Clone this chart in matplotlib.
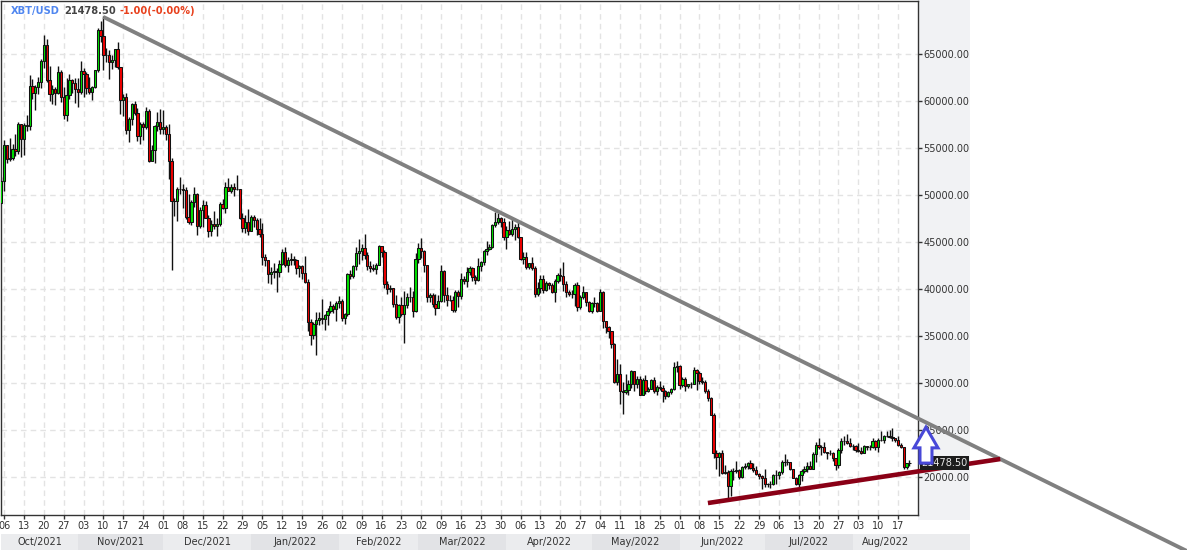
import numpy as np
import pandas as pd
import matplotlib
matplotlib.use("Agg")
import matplotlib.pyplot as plt
import matplotlib.dates as mdates
from matplotlib.patches import Rectangle, Polygon
from matplotlib.transforms import blended_transform_factory

# ---------------------------------------------------------------------------
# Data: XBT/USD daily candles, 2021-10-05 .. 2022-08-21 (values in k USD)
# open of each day = previous close
# ---------------------------------------------------------------------------
first_date = "2021-10-05"
first_open_k = 49.2
last_price = 21478.50
change_text = "-1.00(-0.00%)"
symbol = "XBT/USD"

closes_k = [
    # Oct 2021 (5..31)
    51.5, 55.3, 53.8, 53.9, 54.9, 54.7, 57.5, 56.0, 57.4, 57.3, 61.6, 60.9, 61.5, 62.0,
    64.3, 66.0, 62.2, 60.7, 61.3, 60.9, 63.1, 60.4, 58.5, 60.6, 62.2, 61.9, 61.3,
    # Nov
    61.0, 63.2, 62.9, 61.4, 61.0, 61.5, 63.3, 67.5, 66.9, 64.9, 64.9, 64.2, 64.4, 65.5, 63.6,
    60.1, 60.4, 56.9, 58.1, 59.7, 58.7, 56.3, 57.6, 57.2, 58.9, 53.6, 54.8, 57.3, 57.8, 57.0,
    # Dec
    57.2, 56.5, 53.6, 49.4, 49.4, 50.6, 50.6, 50.5, 47.7, 47.1, 49.3, 50.1, 46.7, 48.4, 48.9,
    47.6, 46.2, 46.9, 46.7, 46.9, 49.0, 48.6, 50.8, 50.4, 50.8, 50.6, 50.6, 47.5, 46.5, 47.1, 46.2,
    # Jan 2022
    47.7, 47.3, 46.4, 45.8, 43.4, 43.1, 41.6, 41.8, 41.9, 41.8, 42.7, 43.9, 42.6, 43.1, 43.2,
    43.1, 42.2, 42.4, 41.7, 40.7, 36.5, 35.1, 36.3, 36.7, 36.9, 36.8, 37.2, 37.7, 38.2, 37.9, 38.5,
    # Feb
    38.7, 36.9, 37.3, 41.6, 41.4, 42.4, 43.8, 44.0, 44.4, 43.6, 42.4, 42.2, 42.1, 42.6,
    44.6, 43.9, 40.5, 40.0, 40.1, 38.4, 37.0, 38.3, 37.3, 38.3, 39.2, 39.1, 37.7, 43.2,
    # Mar
    44.4, 44.0, 42.5, 39.1, 39.4, 38.4, 38.0, 38.7, 41.9, 39.4, 38.8, 38.8, 37.8, 39.7, 39.3,
    41.1, 40.9, 41.8, 42.2, 41.3, 41.0, 42.4, 42.9, 44.0, 44.3, 44.5, 46.8, 47.1, 47.5, 47.1, 45.5,
    # Apr
    46.3, 45.8, 46.4, 46.6, 45.5, 43.2, 43.4, 42.3, 42.8, 42.2, 39.5, 40.1, 41.1, 39.9, 40.6,
    40.4, 39.7, 40.8, 41.5, 41.4, 40.5, 39.7, 39.5, 39.5, 40.4, 38.1, 39.2, 39.7, 38.6, 37.7,
    # May
    38.5, 38.5, 37.7, 39.7, 36.6, 36.0, 35.5, 34.1, 30.1, 31.0, 29.1, 29.0, 29.3, 29.9, 31.3,
    29.9, 30.4, 28.7, 30.3, 29.2, 29.4, 30.3, 29.1, 29.6, 29.5, 29.2, 28.6, 29.0, 29.4, 31.7, 31.8,
    # Jun
    29.8, 30.4, 29.7, 29.9, 29.9, 31.4, 31.1, 30.2, 30.1, 29.1, 28.4, 26.6, 22.5, 22.1, 22.6,
    20.4, 20.5, 19.0, 20.6, 20.6, 20.7, 20.0, 21.1, 21.2, 21.5, 21.0, 20.7, 20.3, 20.1, 19.9,
    # Jul
    19.3, 19.3, 19.3, 20.2, 20.2, 20.5, 21.6, 21.6, 21.6, 20.8, 19.9, 19.3, 20.2, 20.6, 20.8,
    21.2, 20.8, 22.4, 23.4, 23.2, 23.2, 22.7, 22.5, 22.6, 22.0, 21.3, 22.9, 23.8, 23.8, 23.6, 23.3,
    # Aug (1..21)
    23.3, 22.9, 22.8, 22.6, 23.3, 23.2, 23.2, 23.8, 23.2, 23.9, 23.9, 24.4, 24.4, 24.3, 24.1,
    23.9, 23.4, 23.2, 21.1, 21.5, 21.48,
]

highs_k = [
    51.9, 55.8, 55.3, 56.1, 55.4, 56.5, 57.8, 57.6, 57.7, 58.5, 62.8, 62.3, 61.7, 62.6,
    64.5, 67.0, 66.6, 63.7, 61.7, 61.5, 63.7, 63.3, 61.5, 62.4, 62.9, 62.3, 62.4,
    62.4, 64.3, 63.5, 63.1, 62.5, 61.6, 63.3, 67.8, 68.5, 69.0, 65.6, 65.4, 64.9, 65.5, 66.3,
    63.6, 60.7, 60.9, 58.3, 59.8, 60.0, 59.3, 57.8, 57.8, 59.4, 59.2, 55.3, 57.4, 58.8, 59.2,
    59.0, 57.4, 57.6, 53.9, 49.7, 50.9, 51.9, 51.2, 50.8, 50.1, 49.5, 50.8, 50.2, 48.7, 49.5,
    49.4, 47.9, 47.3, 48.3, 47.5, 49.3, 49.6, 51.4, 51.8, 51.2, 51.3, 52.1, 50.6, 48.1, 47.9, 48.5,
    47.9, 47.9, 47.5, 47.5, 47.0, 43.7, 43.1, 42.3, 42.8, 42.2, 43.1, 44.3, 44.5, 43.4, 43.8,
    43.5, 43.2, 42.6, 42.6, 43.5, 41.1, 36.8, 36.5, 37.5, 37.6, 38.9, 37.3, 38.0, 38.7, 38.4, 38.7,
    39.3, 38.9, 37.4, 41.7, 42.0, 42.5, 44.5, 45.3, 44.8, 45.8, 43.9, 43.0, 42.7, 42.8,
    44.7, 44.6, 44.1, 40.9, 40.4, 40.1, 39.4, 38.4, 39.2, 39.8, 39.6, 40.2, 39.8, 43.8,
    44.9, 45.4, 44.1, 42.5, 39.6, 39.6, 39.5, 39.4, 42.6, 42.0, 40.2, 39.4, 39.3, 39.9, 39.9,
    41.7, 41.4, 42.3, 42.4, 42.3, 41.5, 43.3, 43.0, 44.2, 45.1, 44.8, 46.9, 48.2, 48.1, 47.7, 47.6,
    46.7, 47.2, 47.4, 46.9, 47.1, 45.5, 43.9, 43.9, 42.8, 43.4, 42.4, 40.7, 41.5, 41.5, 40.9,
    40.7, 40.6, 41.1, 41.7, 42.2, 42.9, 40.8, 39.9, 39.9, 40.6, 40.7, 39.4, 40.3, 39.4, 38.7,
    38.6, 39.1, 38.6, 40.0, 39.8, 36.6, 36.1, 35.5, 34.3, 32.6, 32.0, 30.1, 31.0, 30.3, 31.4,
    31.3, 30.7, 30.7, 30.5, 30.8, 29.6, 30.4, 30.6, 29.8, 30.2, 29.8, 29.3, 29.2, 29.5, 32.2, 32.3,
    31.9, 30.6, 30.6, 29.9, 30.1, 31.7, 31.5, 31.3, 30.6, 30.3, 29.4, 28.5, 26.8, 22.9, 22.7,
    22.9, 21.3, 20.7, 20.8, 21.0, 21.7, 20.9, 21.2, 21.5, 21.6, 21.8, 21.5, 21.2, 20.4, 20.2,
    20.9, 19.4, 19.6, 20.3, 20.7, 20.6, 21.8, 22.4, 21.9, 21.6, 20.8, 20.0, 20.3, 20.8, 21.2,
    21.6, 21.7, 22.7, 23.7, 24.2, 23.4, 23.7, 22.7, 22.9, 22.7, 21.8, 23.1, 24.2, 24.4, 24.6, 24.1,
    23.5, 23.4, 23.6, 23.2, 23.4, 23.3, 23.4, 24.2, 23.9, 24.2, 24.9, 24.5, 24.9, 25.0, 25.2,
    24.2, 24.4, 23.6, 23.2, 21.5, 21.8,
]

lows_k = [
    49.1, 50.4, 53.4, 53.6, 53.7, 54.1, 54.4, 54.0, 54.3, 56.8, 56.9, 60.2, 59.0, 60.7,
    61.4, 63.5, 62.0, 60.0, 59.7, 59.6, 60.7, 59.9, 58.1, 57.9, 60.2, 60.8, 59.8,
    59.4, 60.7, 60.4, 60.7, 60.7, 60.1, 61.4, 63.1, 66.3, 63.3, 64.1, 62.3, 63.4, 63.6, 63.4,
    58.6, 58.4, 56.5, 55.6, 57.4, 58.5, 55.7, 55.4, 55.9, 57.0, 53.5, 53.6, 53.4, 56.8, 56.5,
    56.5, 55.9, 51.7, 42.0, 47.8, 47.2, 50.1, 48.6, 47.4, 46.9, 46.8, 48.7, 45.7, 46.5, 46.6,
    47.5, 45.5, 45.6, 46.4, 45.6, 46.7, 48.5, 48.1, 50.4, 50.2, 49.9, 50.5, 47.4, 46.1, 46.0, 45.7,
    46.2, 46.6, 45.7, 45.5, 42.5, 42.4, 40.6, 40.5, 41.2, 39.7, 41.3, 42.5, 42.3, 41.8, 42.6,
    42.6, 41.6, 41.3, 41.1, 40.6, 35.5, 34.0, 34.7, 33.0, 36.2, 36.3, 35.6, 36.2, 37.4, 37.4, 36.6,
    38.0, 36.6, 36.3, 37.1, 41.1, 41.2, 42.0, 42.7, 43.1, 43.2, 42.0, 41.8, 41.9, 41.6,
    42.5, 43.4, 40.1, 39.5, 39.7, 38.1, 36.8, 36.4, 37.1, 34.3, 38.0, 38.6, 37.0, 37.5,
    42.8, 43.3, 41.8, 38.6, 38.6, 38.1, 37.2, 38.0, 38.6, 38.6, 38.2, 38.7, 37.6, 37.6, 38.1,
    38.9, 40.5, 40.2, 41.5, 40.9, 40.5, 40.9, 41.9, 42.6, 43.6, 44.1, 44.4, 46.6, 46.9, 46.6, 45.2,
    44.3, 45.7, 45.6, 45.2, 45.4, 43.1, 42.7, 42.1, 42.1, 42.0, 39.2, 39.3, 39.6, 39.6, 39.8,
    40.0, 39.6, 38.6, 40.6, 40.9, 39.8, 39.2, 39.3, 39.0, 38.2, 37.7, 37.9, 38.9, 38.2, 37.6,
    37.4, 38.1, 37.5, 37.7, 35.9, 35.3, 34.8, 33.7, 30.0, 29.8, 27.8, 26.7, 28.8, 28.7, 29.5,
    29.1, 29.5, 28.7, 28.7, 28.8, 29.0, 29.4, 28.9, 28.7, 29.3, 28.0, 28.3, 28.5, 28.8, 29.3, 31.2,
    29.4, 29.6, 29.2, 29.5, 29.5, 29.9, 29.3, 29.9, 29.9, 28.9, 28.1, 26.6, 22.0, 20.9, 20.1,
    20.3, 20.3, 17.6, 18.0, 19.7, 20.4, 19.8, 19.9, 20.9, 20.9, 20.9, 20.5, 20.2, 19.8, 18.7,
    18.9, 18.9, 18.8, 19.1, 19.3, 19.8, 20.3, 21.2, 21.3, 20.7, 19.9, 19.2, 18.9, 19.6, 20.4,
    20.5, 20.8, 20.8, 21.6, 23.0, 22.3, 22.5, 21.9, 22.3, 21.7, 20.7, 21.0, 22.6, 23.4, 23.5, 23.2,
    22.9, 22.7, 22.7, 22.4, 22.6, 22.9, 22.9, 23.1, 22.9, 22.7, 23.8, 23.6, 24.3, 24.2, 23.8,
    23.7, 23.3, 23.1, 20.8, 20.9, 21.2,
]

# hand-drawn trend lines (date, price)
resistance_dates = ["2021-11-10", "2022-11-27"]
resistance_prices = [68940, 12090]
support_dates = ["2022-06-11", "2022-09-22"]
support_prices = [17230, 21910]

# "up" marker next to last price
arrow_date = "2022-08-26 20:00"
arrow_top = 25300
arrow_neck = 23100

y_ticks = list(range(20000, 70000, 5000))
week_ticks = pd.date_range("2021-10-06", "2022-08-17", freq="7D")
month_starts = pd.date_range("2021-10-01", "2022-09-01", freq="MS")

# ---------------------------------------------------------------------------
# Layout helpers (pixels of the 1187x550 image)
# ---------------------------------------------------------------------------
W, H = 1187, 550
PX_PER_DAY = 2.838


def fx(px):
    return px / W


def fy(py):
    return 1 - py / H


fig = plt.figure(figsize=(W / 100, H / 100), dpi=100)
fig.patch.set_facecolor("white")

# right price panel background
fig.add_artist(Rectangle((fx(918), fy(520)), fx(970) - fx(918), fy(0) - fy(520),
                         transform=fig.transFigure, facecolor="#f1f2f4",
                         edgecolor="none", zorder=-1))

ax = fig.add_axes([fx(1), fy(515), fx(918) - fx(1), fy(1) - fy(515)])
day0 = mdates.date2num(pd.Timestamp("2021-10-06"))
x_left = day0 - 3.1 / PX_PER_DAY
x_right = x_left + 917 / PX_PER_DAY
ax.set_xlim(x_left, x_right)
ax.set_ylim(15957, 70638)

# ---------------------------------------------------------------------------
# Candles
# ---------------------------------------------------------------------------
closes = np.array(closes_k) * 1000
highs = np.array(highs_k) * 1000
lows = np.array(lows_k) * 1000
opens = np.r_[first_open_k * 1000, closes[:-1]]
dates = pd.date_range(first_date, periods=len(closes), freq="D")
xd = mdates.date2num(dates)

hi = np.maximum(highs, np.maximum(opens, closes))
lo = np.minimum(lows, np.minimum(opens, closes))
up = closes >= opens
colors = np.where(up, "#00e000", "#ee0000")

ax.vlines(xd, lo, hi, color="#111111", linewidth=1, zorder=2)
ax.bar(xd, closes - opens, bottom=opens, width=0.8, color=colors,
       edgecolor="#111111", linewidth=0.75, zorder=3)

# ---------------------------------------------------------------------------
# Trend lines and marker
# ---------------------------------------------------------------------------
ax.plot(mdates.date2num(pd.to_datetime(resistance_dates)), resistance_prices,
        color="#808080", linewidth=2.8, solid_capstyle="butt", clip_on=False, zorder=5)
ax.plot(mdates.date2num(pd.to_datetime(support_dates)), support_prices,
        color="#8a0016", linewidth=3.3, solid_capstyle="butt", clip_on=False, zorder=5)

ax.annotate(f"{last_price:.2f}", xy=(1, last_price),
            xycoords=blended_transform_factory(ax.transAxes, ax.transData),
            xytext=(2.5, 0), textcoords="offset points", ha="left", va="center",
            fontsize=7, color="#e8e8e8", annotation_clip=False, zorder=6,
            bbox=dict(boxstyle="square,pad=0.18", fc="#1c1c1c", ec="none"))

ax_c = mdates.date2num(pd.Timestamp(arrow_date))
hw_head = 12 / PX_PER_DAY
hw_shaft = 6 / PX_PER_DAY
arrow = Polygon([(ax_c, arrow_top), (ax_c + hw_head, arrow_neck), (ax_c + hw_shaft, arrow_neck),
                 (ax_c + hw_shaft, last_price), (ax_c - hw_shaft, last_price),
                 (ax_c - hw_shaft, arrow_neck), (ax_c - hw_head, arrow_neck)],
                closed=True, facecolor="white", edgecolor="#4848d8", linewidth=2.2,
                joinstyle="miter", clip_on=False, zorder=7)
ax.add_patch(arrow)

# ---------------------------------------------------------------------------
# Axes styling
# ---------------------------------------------------------------------------
ax.yaxis.tick_right()
ax.set_yticks(y_ticks)
ax.yaxis.set_major_formatter(plt.FuncFormatter(lambda v, p: f"{v:.2f}"))
ax.set_xticks(mdates.date2num(week_ticks))
ax.set_xticklabels([d.strftime("%d") for d in week_ticks])
ax.tick_params(axis="y", length=3, width=1, color="#333333", labelsize=7,
               labelcolor="#333333", pad=1)
ax.tick_params(axis="x", length=3, width=1, color="#333333", labelsize=7,
               labelcolor="#333333", pad=1.5)
for s in ax.spines.values():
    s.set_color("#333333")
    s.set_linewidth(1)
ax.grid(True, color="#e3e3e3", linestyle=(0, (4, 3)), linewidth=1)
ax.set_axisbelow(True)

# month band
bx = fig.add_axes([fx(1), fy(550), fx(970) - fx(1), fy(534) - fy(550)])
bx.set_xlim(x_left, x_left + 969 / PX_PER_DAY)
bx.set_ylim(0, 1)
bx.set_facecolor("#ebecee")
for i in range(len(month_starts) - 1):
    m0 = mdates.date2num(month_starts[i])
    m1 = mdates.date2num(month_starts[i + 1])
    bx.axvspan(m0, m1, color="#ebecee" if i % 2 == 0 else "#e2e3e6", lw=0)
    c0, c1 = max(m0, x_left), min(m1, x_right)
    bx.text((c0 + c1) / 2, 0.5, month_starts[i].strftime("%b/%Y"), ha="center",
            va="center", fontsize=7, color="#333333")
bx.set_xticks([])
bx.set_yticks([])
for s in bx.spines.values():
    s.set_visible(False)

# header
t1 = fig.text(fx(11), fy(11), symbol, color="#4f86f0", fontsize=7.1,
              fontweight="bold", va="center", ha="left")
t2 = ax.annotate(f"{last_price:.2f}", xy=(1, 0.5), xycoords=t1, xytext=(3, 0),
                 textcoords="offset points", va="center", ha="left", fontsize=7.1,
                 fontweight="bold", color="#444444", annotation_clip=False)
ax.annotate(change_text, xy=(1, 0.5), xycoords=t2, xytext=(3, 0),
            textcoords="offset points", va="center", ha="left", fontsize=7.1,
            fontweight="bold", color="#e8401c", annotation_clip=False)

fig.savefig("out.png", dpi=100)
